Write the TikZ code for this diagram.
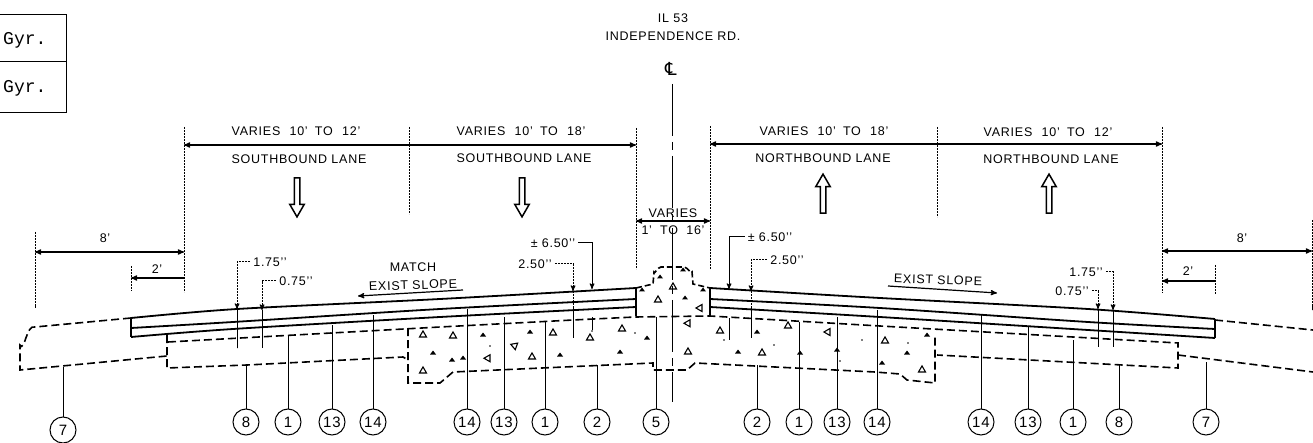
\documentclass[tikz,border=0pt]{standalone}
\usepackage{fontspec}
\setmainfont[LetterSpace=6]{Liberation Sans}
\setmonofont{Liberation Mono}
\newfontfamily\clfont{DejaVu Sans}
\usepackage{tikz}
\usetikzlibrary{shapes, shapes.arrows, calc, arrows}
\newcommand{\inch}{{'}{'}}
\newcommand{\variesto}[2]{VARIES\hspace{5pt} #1\hspace{3pt} TO\hspace{5pt} #2}
\tikzset{
	lbl/.style={inner sep=0pt, font=\fontsize{12.5}{14}\selectfont},
	callout/.style={draw, circle, minimum size=26pt, inner sep=0pt, line width=1pt, font=\fontsize{15}{16}\selectfont},
	extline/.style={line width=1pt, dash pattern=on 2.5pt off 0.5pt},
	dimline/.style={line width=1.2pt, >=stealth'},
	leader/.style={line width=1pt, dash pattern=on 2.5pt off 0.5pt, >=stealth'},
	surface/.style={line width=1.8pt},
	subbase/.style={line width=1.6pt, dash pattern=on 8pt off 4pt},
	openarrow/.style={draw, single arrow, minimum height=39pt, inner sep=2pt, single arrow head extend=4.5pt, single arrow tip angle=60, line width=1.5pt, shape border rotate=#1}
}
\begin{document}
\begin{tikzpicture}[x=1pt, y=-1pt]
	\useasboundingbox (0,0) rectangle (1313,443);

	% legend at the corner
	\coordinate (tabA) at (0,14);
	\coordinate (tabB) at (66,14);
	\coordinate (tabC) at (66,112);
	\coordinate (tabD) at (0,112);
	\coordinate (tabE) at (0,62);
	\coordinate (tabF) at (66,62);
	\draw[line width=0.9pt] (tabA) -- (tabB) -- (tabC) -- (tabD);
	\draw[line width=1pt] (tabE) -- (tabF);
	\node[anchor=west, inner sep=0pt, font=\ttfamily\fontsize{18}{20}\selectfont] (gyrA) at (3,40) {Gyr.};
	\node[anchor=west, inner sep=0pt, font=\ttfamily\fontsize{18}{20}\selectfont] (gyrB) at (3,88) {Gyr.};

	% titles
	\node[lbl] (road) at (673,18) {IL 53};
	\node[lbl] (roadname) at (673,36) {INDEPENDENCE RD.};
	\node[inner sep=0pt, font=\clfont\fontsize{18}{20}\selectfont] (cl) at (671,69) {℄};
	\coordinate (clstart) at (672,84);
	\coordinate (clend) at (672,402);
	\draw[line width=1pt, dash pattern=on 52pt off 6pt on 8pt off 6pt] (clstart) -- (clend);

	% extension lines
	\foreach \id/\x/\ya/\yb in {a/184/127/292, b/409/127/214, c/636/128/269, d/710/126/269, e/937/127/217, f/1162/127/293, g/35/232/308, h/131/266/291, i/1312/220/310, j/1215/265/294}
	{
		\coordinate (ext\id top) at (\x,\ya);
		\coordinate (ext\id bot) at (\x,\yb);
		\draw[extline] (ext\id top) -- (ext\id bot);
	}

	% dimensions
	\coordinate (dimA) at (184,145);
	\coordinate (dimB) at (636,145);
	\coordinate (dimC) at (710,144);
	\coordinate (dimD) at (1162,144);
	\coordinate (dimE) at (636,221);
	\coordinate (dimF) at (710,221);
	\coordinate (dimG) at (35,252);
	\coordinate (dimH) at (184,252);
	\coordinate (dimI) at (131,278);
	\coordinate (dimJ) at (184,278);
	\coordinate (dimK) at (1162,251);
	\coordinate (dimL) at (1312,251);
	\coordinate (dimM) at (1162,281);
	\coordinate (dimN) at (1215,281);
	\draw[dimline, <->] (dimA) -- (dimB);
	\draw[dimline, <->] (dimC) -- (dimD);
	\draw[dimline, <->] (dimE) -- (dimF);
	\draw[dimline, <->] (dimG) -- (dimH);
	\draw[dimline, <-] (dimI) -- (dimJ);
	\draw[dimline, <->] (dimK) -- (dimL);
	\draw[dimline, <-] (dimM) -- (dimN);

	\node[lbl] (varA) at (296,131) {\variesto{10'}{12'}};
	\node[lbl] (varB) at (521,131) {\variesto{10'}{18'}};
	\node[lbl] (varC) at (824,131) {\variesto{10'}{18'}};
	\node[lbl] (varD) at (1048,132) {\variesto{10'}{12'}};
	\node[lbl] (laneA) at (299,159) {SOUTHBOUND LANE};
	\node[lbl] (laneB) at (524,158) {SOUTHBOUND LANE};
	\node[lbl] (laneC) at (823,158) {NORTHBOUND LANE};
	\node[lbl] (laneD) at (1051,159) {NORTHBOUND LANE};
	\node[lbl] (varE) at (673,213) {VARIES};
	\node[lbl] (varF) at (673,230) {1'\hspace{4pt} TO\hspace{4pt} 16'};
	\node[lbl] (eightL) at (105,238) {8'};
	\node[lbl] (twoL) at (157,269) {2'};
	\node[lbl] (eightR) at (1242,238) {8'};
	\node[lbl] (twoR) at (1188,271) {2'};

	% traffic arrows
	\node[openarrow=270] (arrA) at (297,195) {};
	\node[openarrow=270] (arrB) at (522,195) {};
	\node[openarrow=90] (arrC) at (823,196) {};
	\node[openarrow=90] (arrD) at (1049,196) {};

	% pavement
	\draw[surface] plot[smooth] coordinates {(131,318) (237,309) (440,299) (636,288)};
	\draw[surface] plot[smooth] coordinates {(131,328) (233,322) (440,309) (636,299)};
	\draw[surface] plot[smooth] coordinates {(131,337) (233,329) (440,317) (636,307)};
	\draw[surface] plot[smooth] coordinates {(710,288) (880,298) (1088,309) (1215,319)};
	\draw[surface] plot[smooth] coordinates {(710,299) (880,308) (1088,322) (1215,329)};
	\draw[surface] plot[smooth] coordinates {(710,307) (880,317) (1088,330) (1215,338)};
	\draw[line width=1.3pt] (131,318) -- (131,337);
	\draw[line width=1.3pt] (1215,319) -- (1215,338);
	\draw[line width=1.6pt] (636,288) -- (636,316);
	\draw[line width=1.6pt] (710,288) -- (710,316);

	% subbase, dashed
	\draw[subbase, dash pattern=on 6pt off 3pt] (636,288) -- (653,284) -- (654,272) to[out=-90, in=180] (661,267) -- (684,267) to[out=0, in=-90] (692,272) -- (693,284) -- (710,288);
	\draw[subbase] (131,318) -- (35,327) to[out=160, in=-60] (20,345) -- (20,370) -- (167,356);
	\draw[subbase] (167,335) -- (167,368) -- (247,365) -- (403,357) -- (408,360);
	\draw[subbase] (168,342) -- (440,327) -- (573,320) -- (635,317) -- (710,316) -- (880,326) -- (1178,343) -- (1178,368) -- (937,355);
	\draw[subbase] (408,328) -- (408,383) -- (440,383) -- (453,372) -- (653,363) -- (653,370) -- (687,370) -- (695,363) -- (875,372) -- (900,374) -- (907,380) -- (935,383) -- (935,337);
	\draw[subbase] (1215,320) -- (1313,330);
	\draw[subbase] (1178,355) -- (1313,372);

	% aggregate
	\foreach \x/\y/\r in {453/338/0, 553/335/0, 513/347/50, 487/360/30, 532/359/0, 590/340/0, 622/331/0, 687/325/30, 720/333/0, 688/354/0, 762/355/0, 788/328/0, 830/332/-90, 885/343/0, 922/372/0, 423/337/0, 423/373/0, 673/289/0, 658/302/0, 702/308/-90}
	{
		\draw[line width=1.1pt] (\x,\y) ++(\r:-3.5) -- ++(\r:7) -- ++(\r-120:7) -- cycle;
	}
	\foreach \x/\y in {483/335, 530/332, 452/360, 463/358, 560/355, 647/338, 620/352, 738/352, 757/332, 800/353, 837/350, 927/335, 882/363, 907/353, 433/353, 685/298, 642/290, 703/290, 660/277, 683/270}
	{
		\fill (\x,\y) ++(-3,1.5) -- ++(6,0) -- ++(-3,-4) -- cycle;
	}
	\foreach \x/\y in {490/346, 592/331, 635/333, 724/340, 774/345, 862/340, 908/343, 840/361}
	{
		\fill (\x,\y) circle (0.8pt);
	}

	% callouts along the bottom
	\foreach \id/\x/\top/\cy/\txt in {a/63/367/430/7, b/246/365/422/8, c/288/335/422/1, d/332/325/422/13, e/373/315/422/14, f/467/309/422/14, g/504/317/422/13, h/545/322/422/1, i/597/365/422/2, j/656/317/422/5, k/757/365/422/2, l/799/322/422/1, m/837/317/422/13, n/877/310/422/14, o/981/315/422/14, p/1028/327/422/13, q/1073/340/422/1, r/1119/365/422/8, s/1206/362/422/7}
	{
		\node[callout] (c\id) at (\x,\cy) {\txt};
		\coordinate (t\id) at (\x,\top);
		\draw[leader] (c\id) -- (t\id);
	}

	% thicknesses
	\node[lbl] (thA) at (270,262) {1.75\inch};
	\node[lbl] (thB) at (296,281) {0.75\inch};
	\node[lbl] (thC) at (553,243) {\textpm\ 6.50\inch};
	\node[lbl] (thD) at (535,264) {2.50\inch};
	\node[lbl] (thE) at (770,237) {\textpm\ 6.50\inch};
	\node[lbl] (thF) at (787,260) {2.50\inch};
	\node[lbl] (thG) at (1086,272) {1.75\inch};
	\node[lbl] (thH) at (1072,291) {0.75\inch};
	\foreach \id/\x/\ya/\yb in {A/237/309/348, B/262/310/348, D/573/291/338, F/751/291/338, G/1113/310/347, H/1098/309/347}
	{
		\coordinate (sf\id) at (\x,\ya);
		\coordinate (st\id) at (\x,\yb);
		\draw[leader] (sf\id) -- (st\id);
	}
	\coordinate (sfC) at (592,289);
	\coordinate (sfE) at (729,289);
	\coordinate (upC) at (592,317);
	\coordinate (loC) at (592,330);
	\coordinate (upE) at (729,318);
	\coordinate (loE) at (729,340);
	\draw[leader] (upC) -- (loC);
	\draw[leader] (upE) -- (loE);
	\foreach \id in {A,B,E,F}
	{
		\draw[leader, ->] (th\id.west) ++(-3,0) -| (sf\id);
	}
	\foreach \id in {C,D,G,H}
	{
		\draw[leader, ->] (th\id.east) ++(3,0) -| (sf\id);
	}

	% slope notes
	\node[lbl] (match) at (413,267) {MATCH};
	\node[lbl, rotate=2] (slopeL) at (413,285) {EXIST SLOPE};
	\coordinate (slopeLa) at (463,290);
	\coordinate (slopeLb) at (358,296);
	\draw[dimline, ->] (slopeLa) -- (slopeLb);
	\node[lbl, rotate=-2] (slopeR) at (938,280) {EXIST SLOPE};
	\coordinate (slopeRa) at (888,286);
	\coordinate (slopeRb) at (997,293);
	\draw[dimline, ->] (slopeRa) -- (slopeRb);

\end{tikzpicture}
\end{document}
